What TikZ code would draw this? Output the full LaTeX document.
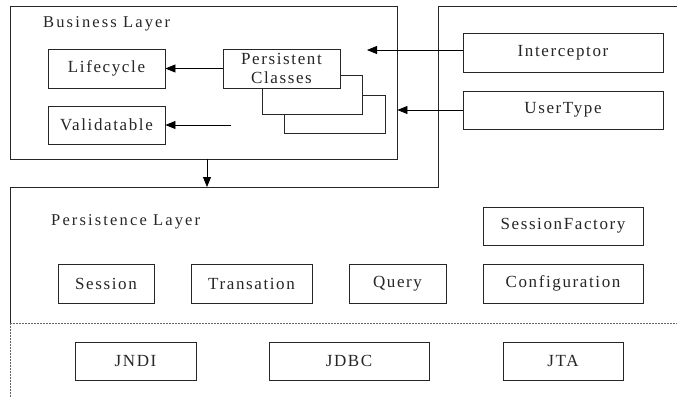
\documentclass[tikz,border=0pt]{standalone}
\usepackage{fontspec}
\setmainfont{Liberation Serif}[LetterSpace=9.5]
\newfontfamily\labfont{Liberation Serif}[LetterSpace=13]
\usetikzlibrary{arrows.meta}
\begin{document}
\begin{tikzpicture}[x=1pt,y={(0pt,-1pt)},
  font=\fontsize{17}{18.5}\selectfont,
  every node/.style={text=black!85},
  box/.style={draw=black!85, line width=0.8pt, fill=white, inner sep=0pt, align=center},
  lay/.style={draw=black!85, line width=0.8pt},
  arr/.style={draw=black, line width=0.8pt, -{Triangle[length=10pt,width=8pt]}},
  sep/.style={draw=black!60, line width=0.6pt, dash pattern=on 2pt off 1pt}]
\useasboundingbox (0,0) rectangle (677,397);
% business layer frame
\node[lay, minimum width=387pt, minimum height=153pt, inner sep=0pt] (bl) at (203.5,82.5) {};
\node[anchor=west, inner sep=0pt, font=\labfont\fontsize{16.5}{18}\selectfont] (bltxt) at (43,24) {Business Layer};
% outer persistence frame
\coordinate (o1) at (677,6);
\coordinate (o2) at (438,6);
\coordinate (o3) at (438,187);
\coordinate (o4) at (10,187);
\coordinate (o5) at (10,323);
\coordinate (o6) at (10,397);
\coordinate (o7) at (677,323);
\draw[lay] (o1) -- (o2) -- (o3) -- (o4) -- (o5);
\draw[sep] (o5) -- (o6);
\draw[sep] (o5) -- (o7);
% business nodes
\node[box, minimum width=117pt, minimum height=39pt] (life) at (106.5,68.5) {Lifecycle};
\node[box, minimum width=117pt, minimum height=38pt] (valid) at (106.5,125) {Validatable};
\node[box, minimum width=101pt, minimum height=38pt] (pc3) at (334.5,114) {};
\node[box, minimum width=100pt, minimum height=39pt] (pc2) at (312,94.5) {};
\node[box, minimum width=117pt, minimum height=39pt] (pc) at (281.5,68.5) {Persistent\\Classes};
% right side
\node[box, minimum width=200pt, minimum height=39pt] (inter) at (563,52.5) {Interceptor};
\node[box, minimum width=200pt, minimum height=38pt] (user) at (563,110) {UserType};
% persistence layer
\node[anchor=west, inner sep=0pt, font=\labfont\fontsize{16.5}{18}\selectfont] (pltxt) at (51,222) {Persistence Layer};
\node[box, minimum width=160pt, minimum height=38pt] (sf) at (563,226) {SessionFactory};
\node[box, minimum width=96pt, minimum height=39pt] (sess) at (106,283.5) {Session};
\node[box, minimum width=121pt, minimum height=39pt] (trans) at (251.5,283.5) {Transation};
\node[box, minimum width=97pt, minimum height=39pt] (query) at (397.5,283.5) {Query};
\node[box, minimum width=160pt, minimum height=39pt] (conf) at (563,283.5) {Configuration};
% bottom
\node[box, minimum width=121pt, minimum height=38pt] (jndi) at (135.5,361) {JNDI};
\node[box, minimum width=160pt, minimum height=38pt] (jdbc) at (349,361) {JDBC};
\node[box, minimum width=120pt, minimum height=38pt] (jta) at (563,361) {JTA};
% connectors
\coordinate (vstart) at (231,125);
\coordinate (itip) at (367,50);
\coordinate (dtop) at (207,159);
\coordinate (dbot) at (207,187);
\draw[arr] (pc.west) -- (life.east);
\draw[arr] (vstart) -- (valid.east);
\draw[arr] (inter.west |- itip) -- (itip);
\draw[arr] (user.west) -- (bl.east |- user.west);
\draw[arr] (dtop) -- (dbot);
\end{tikzpicture}
\end{document}
